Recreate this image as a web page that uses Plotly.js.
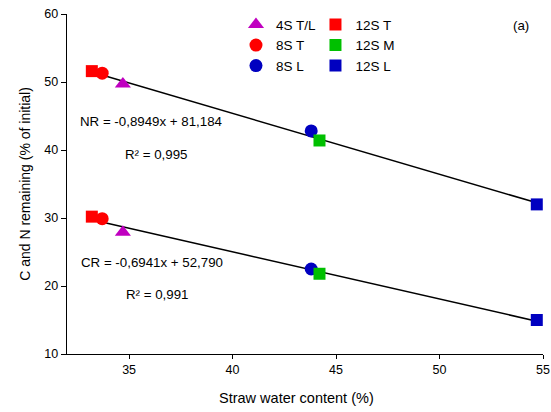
<!DOCTYPE html>
<html>
<head>
<meta charset="utf-8">
<script src="https://cdn.plot.ly/plotly-3.0.1.min.js"></script>
<style>
  html, body { margin: 0; padding: 0; background: #fff; }
  #chart { width: 551px; height: 412px; }
</style>
</head>
<body>
<div id="chart"></div>
<script>
// Straw treatments and their water content (%)
const treatments = ["4S T/L", "8S T", "8S L", "12S T", "12S M", "12S L"];
const waterContent = [34.7, 33.7, 43.8, 33.2, 44.2, 54.7];
// Nitrogen and carbon remaining (% of initial)
const nRemaining = [49.7, 51.3, 42.8, 51.6, 41.4, 32.0];
const cRemaining = [27.9, 29.9, 22.5, 30.2, 21.8, 15.0];

// Fitted regressions
const nrSlope = -0.8949, nrIntercept = 81.184, nrR2 = "0,995";
const crSlope = -0.6941, crIntercept = 52.790, crR2 = "0,991";

// Axis labels
const xTitle = "Straw water content (%)";
const yTitle = "C and N remaining (% of initial)";

// Marker styling per treatment
const symbols = ["triangle-up", "circle", "circle", "square", "square", "square"];
const colors = ["#C000C0", "#FF0000", "#0000C0", "#FF0000", "#00C000", "#0000C0"];
const sizes = [14, 13, 13, 12, 12, 12];
const legendIds = ["legend", "legend", "legend", "legend2", "legend2", "legend2"];

const xMin = Math.min(...waterContent), xMax = Math.max(...waterContent);
const fitLine = (a, b) => ({
  x: [xMin, xMax],
  y: [a * xMin + b, a * xMax + b],
  mode: "lines",
  line: { color: "#000", width: 1.5 },
  showlegend: false,
  hoverinfo: "skip",
  type: "scatter"
});

const traces = [fitLine(nrSlope, nrIntercept), fitLine(crSlope, crIntercept)];
treatments.forEach((name, i) => {
  traces.push({
    type: "scatter",
    mode: "markers",
    name: name,
    legend: legendIds[i],
    x: [waterContent[i], waterContent[i]],
    y: [nRemaining[i], cRemaining[i]],
    marker: { symbol: symbols[i], color: colors[i], size: sizes[i], line: { width: 0 } }
  });
});

const fmt = (v, d) => v.toFixed(d).replace(".", ",");
const fontFamily = "Liberation Sans, Arial, sans-serif";
const txtFont = { family: fontFamily, size: 13.3, color: "#000" };

const layout = {
  width: 551,
  height: 412,
  margin: { l: 67, r: 8, t: 14, b: 58 },
  paper_bgcolor: "#fff",
  plot_bgcolor: "#fff",
  font: { family: fontFamily, size: 12, color: "#000" },
  xaxis: {
    range: [32, 55],
    tickvals: [35, 40, 45, 50, 55],
    showgrid: false,
    zeroline: false,
    showline: true,
    linecolor: "#000",
    linewidth: 1.3,
    ticks: "outside",
    ticklen: 4,
    tickcolor: "#000",
    tickfont: { size: 12.5 }
  },
  yaxis: {
    range: [10, 60],
    tickvals: [10, 20, 30, 40, 50, 60],
    showgrid: false,
    zeroline: false,
    showline: true,
    linecolor: "#000",
    linewidth: 1.3,
    ticks: "outside",
    ticklen: 5,
    tickcolor: "#000",
    tickfont: { size: 12.5 },
    title: { text: yTitle, font: { size: 14 }, standoff: 10 }
  },
  legend: {
    x: 0.355, y: 1.014, xanchor: "left", yanchor: "top",
    bgcolor: "rgba(0,0,0,0)", borderwidth: 0, tracegroupgap: 0,
    font: { size: 13.5 }
  },
  legend2: {
    x: 0.522, y: 1.014, xanchor: "left", yanchor: "top",
    bgcolor: "rgba(0,0,0,0)", borderwidth: 0, tracegroupgap: 0,
    font: { size: 13.5 }
  },
  annotations: [
    { text: xTitle, xref: "paper", yref: "paper", x: 0.483, y: -0.128,
      xanchor: "center", yanchor: "middle", showarrow: false,
      font: { family: fontFamily, size: 14.5, color: "#000" } },
    { text: "(a)", xref: "paper", yref: "paper", x: 0.953, y: 0.965,
      xanchor: "center", yanchor: "middle", showarrow: false, font: txtFont },
    { text: "NR = " + fmt(nrSlope, 4) + "x + " + fmt(nrIntercept, 3), xref: "x", yref: "y",
      x: 36.06, y: 44.26, showarrow: false, font: txtFont },
    { text: "R² = " + nrR2, xref: "x", yref: "y", x: 36.28, y: 39.41, showarrow: false, font: txtFont },
    { text: "CR = " + fmt(crSlope, 4) + "x + " + fmt(crIntercept, 3), xref: "x", yref: "y",
      x: 36.1, y: 23.53, showarrow: false, font: txtFont },
    { text: "R² = " + crR2, xref: "x", yref: "y", x: 36.35, y: 18.82, showarrow: false, font: txtFont }
  ]
};

Plotly.newPlot("chart", traces, layout, { displayModeBar: false, staticPlot: true });
</script>
</body>
</html>
